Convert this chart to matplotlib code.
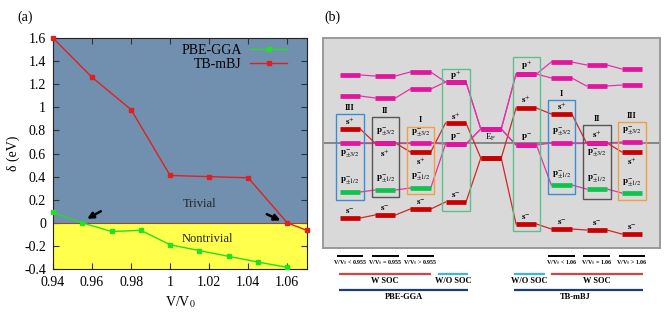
import numpy as np
import matplotlib
matplotlib.use('Agg')
import matplotlib.pyplot as plt
from matplotlib.patches import Rectangle
from matplotlib.ticker import FormatStrFormatter, MultipleLocator

plt.rcParams['font.family'] = ['Liberation Serif', 'DejaVu Serif']
plt.rcParams['mathtext.fontset'] = 'stix'
plt.rcParams['axes.unicode_minus'] = False

# ---- panel (a): gap vs volume ratio
v_pbe = [0.94, 0.955, 0.97, 0.985, 1.0, 1.015, 1.03, 1.045, 1.06]
d_pbe = [0.09, 0.0, -0.075, -0.065, -0.19, -0.24, -0.29, -0.34, -0.385]
v_tb = [0.94, 0.96, 0.98, 1.0, 1.02, 1.04, 1.06, 1.07]
d_tb = [1.60, 1.26, 0.98, 0.41, 0.40, 0.39, 0.0, -0.065]

# ---- panel (b): level energies per column (arb. units, E_F line = 0)
# columns: PBE III, II, I, PBE w/o SOC, E_F, TB w/o SOC, TB I, II, III
has_soc = [True, True, True, False, False, False, True, True, True]
e_p_hi = [6.8, 6.7, 7.1, 6.1, 1.4, 6.9, 8.1, 7.8, 7.4]
e_p_lo = [4.7, 4.5, 5.4, 6.1, 1.4, 6.9, 6.5, 5.7, 5.8]
e_s_plus = [1.4, 0.0, -0.9, 2.0, -1.5, 3.5, 2.9, 0.0, -0.9]
e_p32 = [0.0, 0.0, 0.0, -0.1, 1.4, -0.2, 0.0, 0.0, 0.1]
e_p12 = [-4.9, -4.7, -4.5, -0.1, 1.4, -0.2, -4.2, -4.6, -5.0]
e_s_minus = [-7.5, -7.2, -6.6, -5.9, -1.5, -8.1, -8.6, -8.7, -9.1]

box_cols = [0, 1, 2, 3, 5, 6, 7, 8]
box_names = ['III', 'II', 'I', '', '', 'I', 'II', 'III']
pbe_ratio = ['V/V$_0$ < 0.955', 'V/V$_0$ = 0.955', 'V/V$_0$ > 0.955']
tb_ratio = ['V/V$_0$ < 1.06', 'V/V$_0$ = 1.06', 'V/V$_0$ > 1.06']

RED, MAG, GRN = '#c80000', '#e0169e', '#12c24e'
RED_L, MAG_L = '#d52525', '#e532a8'

fig = plt.figure(figsize=(6.66, 3.18), dpi=100)

# ================= (a)
ax = fig.add_axes([0.0796, 0.154, 0.381, 0.7264])
ax.axhspan(0, 1.6, color='#7190b0', lw=0)
ax.axhspan(-0.4, 0, color='#ffff4c', lw=0)
ax.axhline(0, color='#8b4c3c', lw=0.8)
ax.plot(v_pbe, d_pbe, color='#22e022', lw=1.0, marker='s', ms=3, label='PBE-GGA', clip_on=False, zorder=5)
ax.plot(v_tb, d_tb, color='#e02020', lw=1.0, marker='s', ms=3, label='TB-mBJ', clip_on=False, zorder=5)
ax.set_xlim(0.94, 1.07)
ax.set_ylim(-0.4, 1.6)
ax.xaxis.set_major_locator(MultipleLocator(0.02))
ax.yaxis.set_major_locator(MultipleLocator(0.2))
ax.xaxis.set_major_formatter(FormatStrFormatter('%g'))
ax.yaxis.set_major_formatter(FormatStrFormatter('%g'))
ax.tick_params(direction='in', top=True, right=True, length=4, pad=5, labelsize=10, color='#333333')
for s in ax.spines.values():
    s.set_color('#222222')
    s.set_linewidth(0.8)
ax.set_xlabel('V/V$_0$', fontsize=10, labelpad=4)
ax.set_ylabel('δ (eV)', fontsize=10, labelpad=3)
ax.text(1.015, 0.16, 'Trivial', ha='center', va='center', fontsize=9, color='#222222')
ax.text(1.019, -0.14, 'Nontrivial', ha='center', va='center', fontsize=9, color='#222222')
ap = dict(arrowstyle='-|>', color='k', lw=1.8, mutation_scale=9, shrinkA=0, shrinkB=0)
ax.annotate('', xy=(0.9575, 0.035), xytext=(0.9645, 0.10), arrowprops=ap)
ax.annotate('', xy=(1.0565, 0.02), xytext=(1.0495, 0.075), arrowprops=ap)
ax.legend(loc='upper right', bbox_to_anchor=(0.935, 0.988), frameon=False, markerfirst=False,
          fontsize=10, handlelength=2.7, handletextpad=0.6, labelspacing=0.1,
          borderaxespad=0, borderpad=0.2)
fig.text(25 / 666, 1 - 17 / 318, '(a)', ha='center', va='center', fontsize=10)
fig.text(332 / 666, 1 - 17 / 318, '(b)', ha='center', va='center', fontsize=10)

# ================= (b)
bx = fig.add_axes([0.485, 0.2201, 0.506, 0.6604])
bx.set_facecolor('#d9d9d9')
bx.set_xlim(-0.766, 8.794)
bx.set_ylim(-10.5, 10.5)
bx.set_xticks([])
bx.set_yticks([])
for s in bx.spines.values():
    s.set_color('#9a9a9a')
    s.set_linewidth(1.4)
bx.axhline(0, color='#808080', lw=1.3, zorder=1)

hw = 0.29
cols = np.arange(len(has_soc))
species = [(e_p_hi, MAG_L), (e_p_lo, MAG_L), (e_s_plus, RED_L), (e_p32, MAG_L),
           (e_p12, MAG_L), (e_s_minus, RED_L)]
for arr, c in species:
    for i in cols[:-1]:
        bx.plot([i + hw, i + 1 - hw], [arr[i], arr[i + 1]], color=c, lw=0.9, zorder=2)

for i in cols:
    bars = [(e_p_hi, MAG), (e_p_lo, MAG), (e_s_plus, RED), (e_s_minus, RED),
            (e_p32, MAG), (e_p12, GRN if has_soc[i] else MAG)]
    for arr, c in bars:
        bx.plot([i - hw, i + hw], [arr[i], arr[i]], color=c, lw=3.4, solid_capstyle='butt', zorder=3)

# level labels
SP, SM = r'$\mathbf{s}^{+}$', r'$\mathbf{s}^{-}$'
PP, PM = r'$\mathbf{p}^{+}$', r'$\mathbf{p}^{-}$'
P32, P12 = r'$\mathbf{p}^{-}_{\pm3/2}$', r'$\mathbf{p}^{-}_{\pm1/2}$'
labels = {
    0: [(SP, e_s_plus, 0.8), (P32, e_p32, -1.1), (P12, e_p12, 1.15), (SM, e_s_minus, 0.7)],
    1: [(P32, e_p32, 1.15), (SP, e_s_plus, -1.0), (P12, e_p12, 1.1), (SM, e_s_minus, 0.7)],
    2: [(P32, e_p32, 1.05), (SP, e_s_plus, -0.9), (P12, e_p12, 1.1), (SM, e_s_minus, 0.7)],
    3: [(PP, e_p_hi, 0.7), (SP, e_s_plus, 0.7), (PM, e_p32, 0.7), (SM, e_s_minus, 0.7)],
    5: [(PP, e_p_hi, 0.9), (SP, e_s_plus, 0.9), (PM, e_p32, 0.8), (SM, e_s_minus, 0.7)],
    6: [(SP, e_s_plus, 0.8), (P32, e_p32, 1.1), (P12, e_p12, 1.0), (SM, e_s_minus, 0.7)],
    7: [(SP, e_s_plus, 0.9), (P32, e_p32, -1.0), (P12, e_p12, 1.0), (SM, e_s_minus, 0.65)],
    8: [(P32, e_p32, 1.1), (SP, e_s_plus, -0.9), (P12, e_p12, 1.0), (SM, e_s_minus, 0.7)],
}
for i, lst in labels.items():
    for txt, arr, dy in lst:
        bx.text(i, arr[i] + dy, txt, ha='center', va='center', fontsize=6.5, zorder=4)
bx.text(4, 0.6, r'E$_\mathrm{F}$', ha='center', va='center', fontsize=6.5, zorder=4)

# group boxes
box_colors = ['#3c8dd0', '#555555', '#f0a040', '#5cc08a', '#5cc08a', '#3c8dd0', '#555555', '#f0a040']
box_top = [2.87, 2.57, 1.63, 7.37, 8.57, 4.3, 1.77, 2.07]
box_bot = [-5.73, -5.43, -5.07, -6.8, -8.77, -5.1, -5.63, -5.73]
bw = 0.39
for i, name, c, t, b in zip(box_cols, box_names, box_colors, box_top, box_bot):
    bx.add_patch(Rectangle((i - bw, b), 2 * bw, t - b, fill=False, ec=c, lw=1.0, zorder=2.5))
    if name:
        bx.text(i, t + 0.65, name, ha='center', va='center', fontsize=6, fontweight='bold')

# legend-like annotation under panel (b)
kw = dict(clip_on=False, solid_capstyle='butt')
for i, t in zip([0, 1, 2], pbe_ratio):
    bx.plot([i - 0.38, i + 0.38], [-11.3, -11.3], color='k', lw=1.4, **kw)
    bx.text(i, -11.95, t, ha='center', va='center', fontsize=4.3, fontweight='bold')
for i, t in zip([6, 7, 8], tb_ratio):
    bx.plot([i - 0.38, i + 0.38], [-11.3, -11.3], color='k', lw=1.4, **kw)
    bx.text(i, -11.95, t, ha='center', va='center', fontsize=4.3, fontweight='bold')

groups = [(-0.31, 2.30, 'W SOC', '#d04545'), (2.49, 3.36, 'W/O SOC', '#3cb4e6'),
          (4.65, 5.53, 'W/O SOC', '#3cb4e6'), (5.70, 8.32, 'W SOC', '#d04545')]
for x0, x1, t, c in groups:
    bx.plot([x0, x1], [-13.07, -13.07], color=c, lw=1.6, **kw)
    bx.text((x0 + x1) / 2, -13.8, t, ha='center', va='center', fontsize=6, fontweight='bold')
methods = [(-0.31, 3.36, 1.53, 'PBE-GGA'), (4.66, 8.32, 6.4, 'TB-mBJ')]
for x0, x1, xc, t in methods:
    bx.plot([x0, x1], [-14.73, -14.73], color='#1e3c74', lw=1.6, **kw)
    bx.text(xc, -15.4, t, ha='center', va='center', fontsize=6, fontweight='bold')

fig.savefig('out.png', dpi=100)
